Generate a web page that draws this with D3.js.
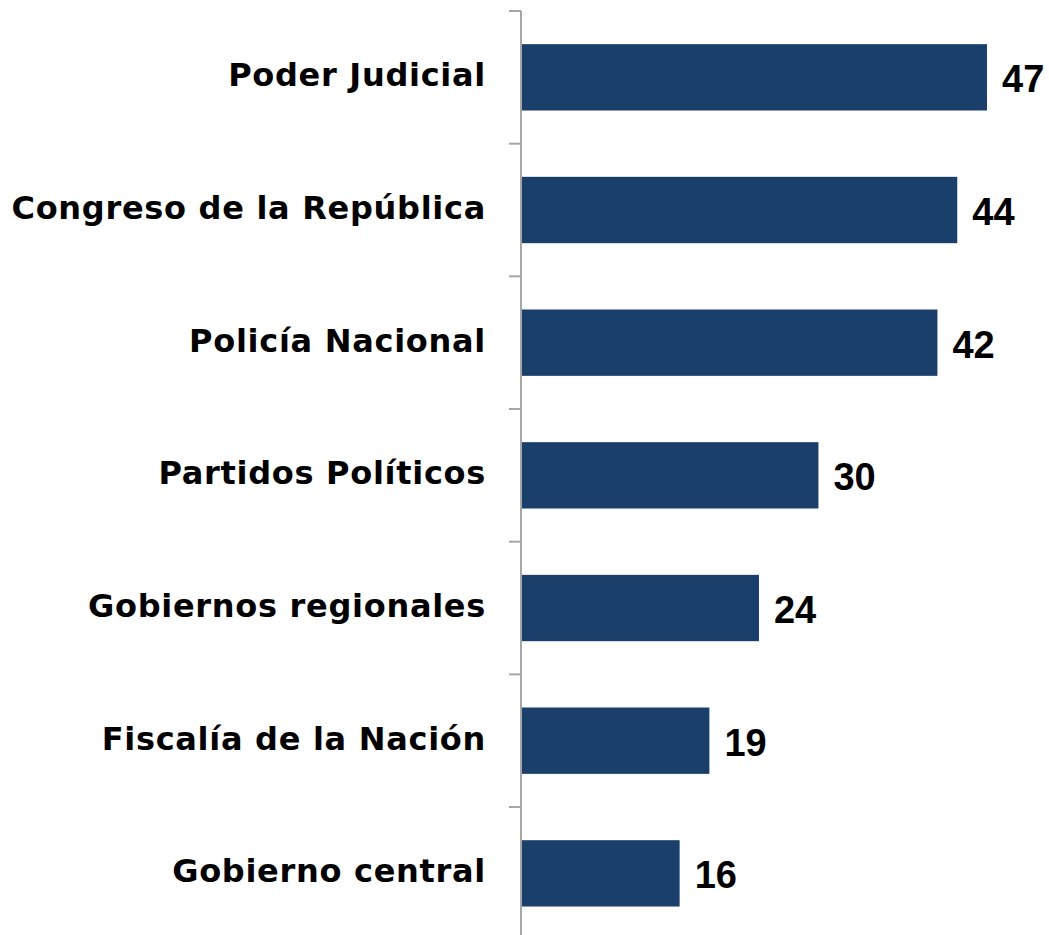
<!DOCTYPE html>
<html>
<head>
<meta charset="utf-8">
<script src="https://cdn.jsdelivr.net/npm/d3@7"></script>
<style>
  body { margin: 0; background: #fff; }
  text { font-weight: bold; fill: #000; }
  .cat { font-family: "DejaVu Sans", sans-serif; letter-spacing: 0.7px; }
  .val { font-family: "Liberation Sans", Arial, sans-serif; }
</style>
</head>
<body>
<svg id="chart" width="1049" height="935"></svg>
<script>
const categories = ["Poder Judicial", "Congreso de la República", "Policía Nacional",
  "Partidos Políticos", "Gobiernos regionales", "Fiscalía de la Nación", "Gobierno central"];
const values = [47, 44, 42, 30, 24, 19, 16];

const svg = d3.select("#chart");
const x0 = 521, yTop = 11, step = 132.67;

const x = d3.scaleLinear().domain([0, 47]).range([x0, 987]);
const y = d3.scaleBand()
  .domain(categories)
  .range([yTop, yTop + step * categories.length])
  .paddingInner(0.5)
  .paddingOuter(0.25);

// bars
svg.selectAll("rect.bar")
  .data(categories)
  .enter()
  .append("rect")
  .attr("class", "bar")
  .attr("x", x(0))
  .attr("y", d => y(d))
  .attr("width", (d, i) => x(values[i]) - x(0))
  .attr("height", y.bandwidth())
  .attr("fill", "#1a3f6b");

// axis line + ticks between categories
const g = svg.append("g");
g.append("line")
  .attr("x1", x0).attr("x2", x0)
  .attr("y1", yTop).attr("y2", 935)
  .attr("stroke", "#a6a6a6").attr("stroke-width", 2);
const tickYs = categories.map(d => y(d) - y.step() * 0.25);
tickYs.push(y.range()[1]);
g.selectAll("line.tick")
  .data(tickYs)
  .enter()
  .append("line")
  .attr("class", "tick")
  .attr("x1", x0 - 12).attr("x2", x0)
  .attr("y1", d => d).attr("y2", d => d)
  .attr("stroke", "#a6a6a6").attr("stroke-width", 2);

// category labels
svg.selectAll("text.cat")
  .data(categories)
  .enter()
  .append("text")
  .attr("class", "cat")
  .attr("x", 486)
  .attr("y", d => y(d) + y.bandwidth() / 2)
  .attr("dy", 9)
  .attr("text-anchor", "end")
  .attr("font-size", 32)
  .text(d => d);

// value labels
svg.selectAll("text.val")
  .data(categories)
  .enter()
  .append("text")
  .attr("class", "val")
  .attr("x", (d, i) => x(values[i]) + 15)
  .attr("y", d => y(d) + y.bandwidth() / 2)
  .attr("dy", 15)
  .attr("font-size", 38)
  .text((d, i) => values[i]);
</script>
</body>
</html>
